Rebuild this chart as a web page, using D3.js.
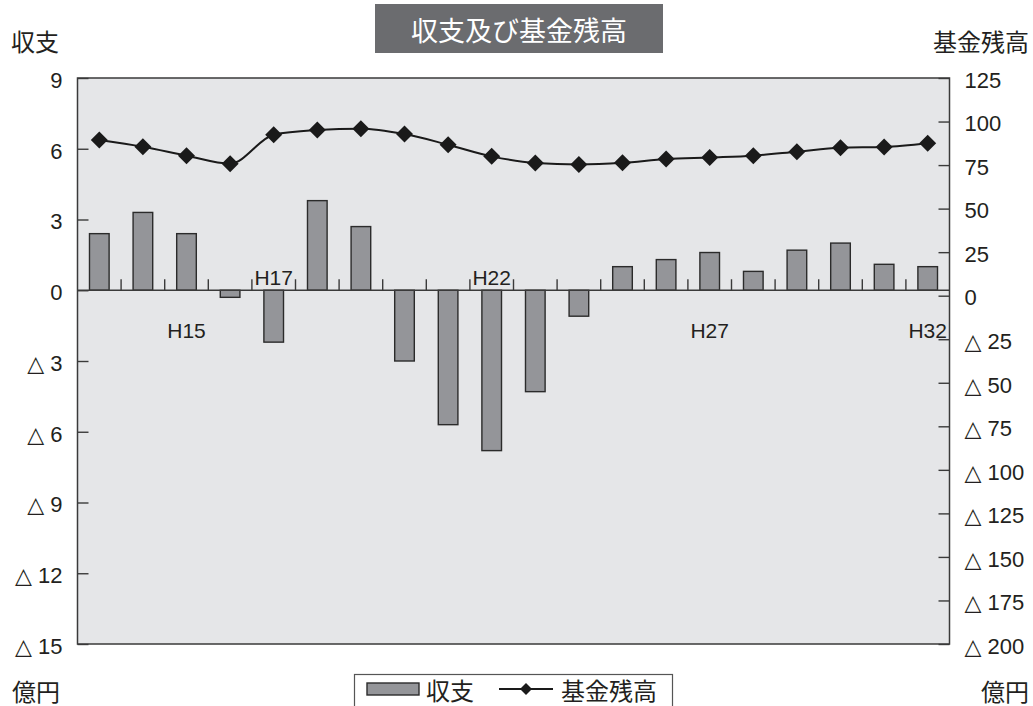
<!DOCTYPE html>
<html lang="ja">
<head>
<meta charset="utf-8">
<script src="https://cdn.jsdelivr.net/npm/d3@7"></script>
<style>
  html, body { margin: 0; padding: 0; background: #fff; }
  svg { display: block; }
  .num { font-family: "Liberation Sans", Arial, "DejaVu Sans", sans-serif; font-size: 22px; fill: #231f20; }
  .jp { font-family: "Noto Sans CJK JP", "Noto Sans", sans-serif; fill: #231f20; }
</style>
</head>
<body>
<svg id="chart" width="1033" height="706"></svg>
<script>
// Fiscal years (Heisei)
const years = ["H13","H14","H15","H16","H17","H18","H19","H20","H21","H22",
               "H23","H24","H25","H26","H27","H28","H29","H30","H31","H32"];
// Annual balance (億円, left axis)
const balance = [2.4, 3.3, 2.4, -0.3, -2.2, 3.8, 2.7, -3.0, -5.7, -6.8,
                 -4.3, -1.1, 1.0, 1.3, 1.6, 0.8, 1.7, 2.0, 1.1, 1.0];
// Fund balance (億円, right axis)
const fund = [89.4, 85.5, 80.4, 75.8, 92.4, 95.1, 95.9, 92.8, 86.7, 80.0,
              76.2, 75.4, 76.3, 78.5, 79.4, 80.4, 82.7, 85.0, 85.4, 87.5];
// Years that carry a category label
const labeledYears = ["H15","H17","H22","H27","H32"];
// Axis tick values
const leftTicks = [9, 6, 3, 0, -3, -6, -9, -12, -15];
const rightTicks = [125, 100, 75, 50, 25, 0, -25, -50, -75, -100, -125, -150, -175, -200];

const svg = d3.select("#chart");
const plot = { left: 77.5, right: 949.5, top: 78, bottom: 644 };

const x = d3.scaleBand().domain(years)
  .range([plot.left, plot.right]).paddingInner(0.55).paddingOuter(0.275);
const yL = d3.scaleLinear().domain([-15, 9]).range([plot.bottom, plot.top]);
const yR = d3.scaleLinear().domain([-200, 125]).range([plot.bottom, plot.top]);

const fmt = v => v < 0 ? "△ " + Math.abs(v) : String(v);
const ink = "#231f20";
const diamondPath = r => `M0,${-r}L${r},0L0,${r}L${-r},0Z`;

// Plot background
svg.append("rect")
  .attr("x", plot.left).attr("y", plot.top)
  .attr("width", plot.right - plot.left).attr("height", plot.bottom - plot.top)
  .attr("fill", "#e5e6e8");

// Bars
svg.append("g").selectAll("rect").data(years).join("rect")
  .attr("x", d => x(d))
  .attr("width", x.bandwidth())
  .attr("y", (d, i) => yL(Math.max(0, balance[i])))
  .attr("height", (d, i) => Math.abs(yL(balance[i]) - yL(0)))
  .attr("fill", "#949599")
  .attr("stroke", "#2b2b2b")
  .attr("stroke-width", 1.4);

// Category axis along zero
const y0 = yL(0);
svg.append("line")
  .attr("x1", plot.left).attr("x2", plot.right)
  .attr("y1", y0).attr("y2", y0)
  .attr("stroke", "#3a3a3a").attr("stroke-width", 1.4);
const gap = (x.step() - x.bandwidth()) / 2;
svg.append("g").selectAll("line").data(years.slice(1)).join("line")
  .attr("x1", d => x(d) - gap).attr("x2", d => x(d) - gap)
  .attr("y1", y0).attr("y2", y0 - 11)
  .attr("stroke", "#3a3a3a").attr("stroke-width", 1.4);

// Category labels: above the axis for negative years, below otherwise
svg.append("g").selectAll("text").data(labeledYears).join("text")
  .attr("class", "num")
  .style("font-size", "21px")
  .attr("text-anchor", "middle")
  .attr("x", d => x(d) + x.bandwidth() / 2)
  .attr("y", d => balance[years.indexOf(d)] < 0 ? y0 - 5 : y0 + 48)
  .text(d => d);

// Fund balance line (smoothed) with diamond markers
const line = d3.line()
  .x((d, i) => x(years[i]) + x.bandwidth() / 2)
  .y(d => yR(d))
  .curve(d3.curveMonotoneX);
svg.append("path").datum(fund)
  .attr("d", line).attr("fill", "none")
  .attr("stroke", "#1a1a1a").attr("stroke-width", 2);
svg.append("g").selectAll("path").data(fund).join("path")
  .attr("d", diamondPath(8.5))
  .attr("transform", (d, i) => `translate(${x(years[i]) + x.bandwidth() / 2},${yR(d)})`)
  .attr("fill", "#1a1a1a");

// Left axis: ticks point inward
const gL = svg.append("g").attr("transform", `translate(${plot.left},0)`)
  .call(d3.axisLeft(yL).tickValues(leftTicks).tickFormat(fmt).tickSize(-11).tickPadding(15));
// Right axis
const gR = svg.append("g").attr("transform", `translate(${plot.right},0)`)
  .call(d3.axisRight(yR).tickValues(rightTicks).tickFormat(fmt).tickSize(-11).tickPadding(15));
[gL, gR].forEach(g => {
  g.select(".domain").remove();
  g.selectAll(".tick line").attr("stroke", "#3a3a3a").attr("stroke-width", 1.4);
  g.selectAll(".tick text").attr("class", "num").attr("dy", "0.42em")
    .attr("fill", ink).style("font-family", null).style("font-size", null);
  g.attr("font-family", null).attr("font-size", null);
});

// Plot frame
svg.append("rect")
  .attr("x", plot.left).attr("y", plot.top)
  .attr("width", plot.right - plot.left).attr("height", plot.bottom - plot.top)
  .attr("fill", "none").attr("stroke", "#3a3a3a").attr("stroke-width", 1.5);

// Title box
svg.append("rect").attr("x", 375).attr("y", 4).attr("width", 288).attr("height", 49)
  .attr("fill", "#6b6c6f");
svg.append("text").attr("class", "jp")
  .attr("x", 519).attr("y", 29).attr("text-anchor", "middle")
  .attr("dominant-baseline", "central")
  .style("fill", "#fff").style("font-size", "27px")
  .text("収支及び基金残高");

// Axis titles and units
const jpText = (tx, ty, anchor, s) => svg.append("text").attr("class", "jp")
  .attr("x", tx).attr("y", ty).attr("text-anchor", anchor)
  .attr("dominant-baseline", "central").style("font-size", "24px").text(s);
jpText(11, 40, "start", "収支");
jpText(1029, 40, "end", "基金残高");
jpText(12, 690, "start", "億円");
jpText(1029, 690, "end", "億円");

// Legend
const lg = svg.append("g");
lg.append("rect").attr("x", 354.5).attr("y", 674.5).attr("width", 318).attr("height", 40)
  .attr("fill", "#fff").attr("stroke", "#555").attr("stroke-width", 1.2);
lg.append("rect").attr("x", 367).attr("y", 683).attr("width", 52).attr("height", 12)
  .attr("fill", "#949599").attr("stroke", "#2b2b2b").attr("stroke-width", 1.4);
lg.append("text").attr("class", "jp").attr("x", 426).attr("y", 689)
  .attr("dominant-baseline", "central").style("font-size", "24px").text("収支");
lg.append("line").attr("x1", 499).attr("x2", 553).attr("y1", 689).attr("y2", 689)
  .attr("stroke", "#1a1a1a").attr("stroke-width", 2);
lg.append("path").attr("d", diamondPath(6))
  .attr("transform", "translate(526,689)").attr("fill", "#1a1a1a");
lg.append("text").attr("class", "jp").attr("x", 561).attr("y", 689)
  .attr("dominant-baseline", "central").style("font-size", "24px").text("基金残高");
</script>
</body>
</html>
